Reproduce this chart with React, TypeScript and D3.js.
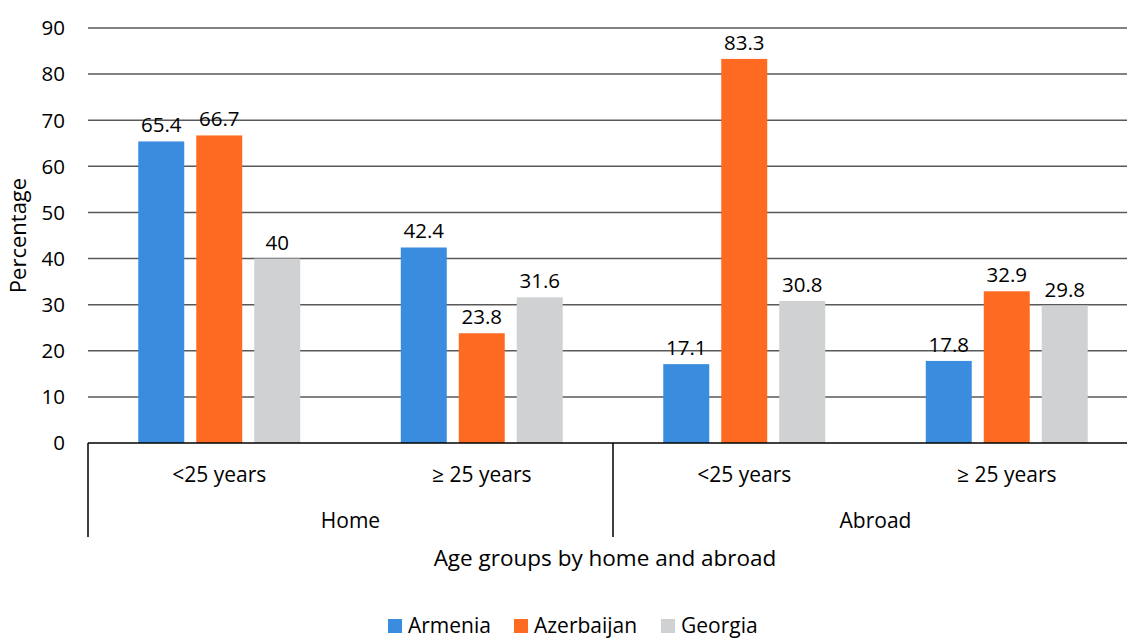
import React from "react";
import * as d3 from "d3";

const groups = ["Home", "Abroad"];
const ageGroups = ["<25 years", "≥ 25 years"];
const series = ["Armenia", "Azerbaijan", "Georgia"];
const colors = ["#3A8DDE", "#FF6A22", "#D0D1D3"];
// values per category: Home <25, Home ≥25, Abroad <25, Abroad ≥25
const armenia = [65.4, 42.4, 17.1, 17.8];
const azerbaijan = [66.7, 23.8, 83.3, 32.9];
const georgia = [40, 31.6, 30.8, 29.8];
const yTicks = [0, 10, 20, 30, 40, 50, 60, 70, 80, 90];

const W = 1127;
const H = 639;
const FONT = "'Open Sans', 'Noto Sans', sans-serif";

export default function App() {
  const left = 88;
  const right = 1138;
  const top = 28;
  const bottom = 443;

  const categories = groups.flatMap((g) => ageGroups.map((a) => `${g}|${a}`));
  const x0 = d3.scaleBand<string>().domain(categories).range([left, right]).padding(0);
  const x1 = d3
    .scaleBand<string>()
    .domain(series)
    .range([0, x0.bandwidth()])
    .paddingInner(0.207)
    .paddingOuter(0.867);
  const y = d3.scaleLinear().domain([0, 90]).range([bottom, top]);

  const data = [armenia, azerbaijan, georgia];
  const groupScale = d3.scaleBand<string>().domain(groups).range([left, right]);
  const legendX = [388, 514, 661];

  return (
    <svg width={W} height={H} style={{ position: "absolute", left: 0, top: 0, background: "#fff" }} fontFamily={FONT}>
      {/* horizontal gridlines */}
      {yTicks.slice(1).map((t) => (
        <line key={t} x1={left} x2={right} y1={y(t)} y2={y(t)} stroke="#595959" strokeWidth={1.5} />
      ))}
      {/* y tick labels */}
      {yTicks.map((t) => (
        <text key={t} x={65} y={y(t)} dy="0.36em" textAnchor="end" fontSize={20.5} fill="#000">
          {t}
        </text>
      ))}
      {/* bars and value labels */}
      {series.map((s, si) =>
        categories.map((c, ci) => {
          const v = data[si][ci];
          const bx = (x0(c) as number) + (x1(s) as number);
          return (
            <g key={`${s}-${c}`}>
              <rect x={bx} y={y(v)} width={x1.bandwidth()} height={y(0) - y(v)} fill={colors[si]} />
              <text x={bx + x1.bandwidth() / 2} y={y(v) - 9} textAnchor="middle" fontSize={20.5} fill="#000">
                {v}
              </text>
            </g>
          );
        })
      )}
      {/* category axis */}
      <line x1={left} x2={right} y1={bottom} y2={bottom} stroke="#000" strokeWidth={1.5} />
      {groups.map((g) => (
        <line
          key={g}
          x1={groupScale(g) as number}
          x2={groupScale(g) as number}
          y1={bottom}
          y2={537}
          stroke="#000"
          strokeWidth={1.5}
        />
      ))}
      {categories.map((c) => (
        <text
          key={c}
          x={(x0(c) as number) + x0.bandwidth() / 2}
          y={474}
          dy="0.36em"
          textAnchor="middle"
          fontSize={21}
          fill="#000"
        >
          {c.split("|")[1]}
        </text>
      ))}
      {groups.map((g) => (
        <text
          key={g}
          x={(groupScale(g) as number) + groupScale.bandwidth() / 2}
          y={520}
          dy="0.36em"
          textAnchor="middle"
          fontSize={21}
          fill="#000"
        >
          {g}
        </text>
      ))}
      {/* axis titles */}
      <text x={605} y={558} dy="0.36em" textAnchor="middle" fontSize={22.5} fill="#000">
        Age groups by home and abroad
      </text>
      <text
        transform={`translate(18, ${(top + bottom) / 2}) rotate(-90)`}
        dy="0.36em"
        textAnchor="middle"
        fontSize={22}
        fill="#000"
      >
        Percentage
      </text>
      {/* legend */}
      {legendX.map((lx, i) => (
        <g key={series[i]}>
          <rect x={lx} y={619} width={14} height={14} fill={colors[i]} />
          <text x={lx + 20} y={625} dy="0.36em" fontSize={21} fill="#000">
            {series[i]}
          </text>
        </g>
      ))}
    </svg>
  );
}
